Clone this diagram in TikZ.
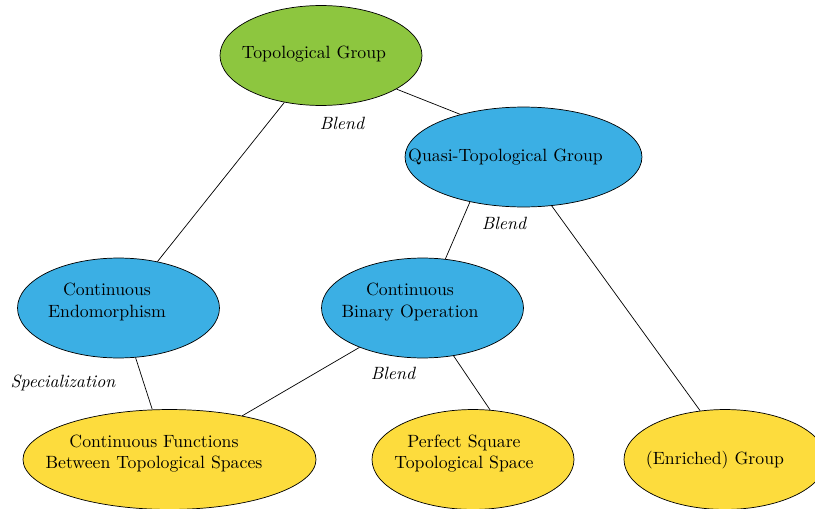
\documentclass[tikz,border=0pt]{standalone}
\usetikzlibrary{shapes.geometric}
\definecolor{tgreen}{RGB}{141,198,63}
\definecolor{tblue}{RGB}{59,175,228}
\definecolor{tyellow}{RGB}{253,220,61}
\begin{document}
\begin{tikzpicture}[x=0.5634pt,y=-0.5634pt,
  blob/.style={ellipse,draw=black,thin,inner sep=0pt,minimum height=56.3pt,minimum width=113.8pt},
  txt/.style={align=center,inner sep=0pt},
  lbl/.style={font=\itshape,inner sep=0pt},
  link/.style={draw=black,thin}]
\useasboundingbox (0,0) rectangle (815,509);
% ellipses
\node[blob,fill=tgreen] (tg) at (321,55.5) {};
\node[blob,fill=tblue,minimum width=133.5pt] (qtg) at (523.5,157) {};
\node[blob,fill=tblue] (ce) at (118.5,308) {};
\node[blob,fill=tblue] (cbo) at (422.5,308) {};
\node[blob,fill=tyellow,minimum width=165.1pt] (cf) at (169.5,459.5) {};
\node[blob,fill=tyellow] (ps) at (473,459.5) {};
\node[blob,fill=tyellow] (eg) at (725,459.5) {};
% texts
\node[txt] (tgt) at (314,54) {Topological Group};
\node[txt] (qtgt) at (505.5,157) {Quasi-Topological Group};
\node[txt] (cet) at (107,302) {Continuous\\Endomorphism};
\node[txt] (cbot) at (410,302) {Continuous\\Binary Operation};
\node[txt] (cft) at (154,453.5) {Continuous Functions\\Between Topological Spaces};
\node[txt] (pst) at (464,453.5) {Perfect Square\\Topological Space};
\node[txt] (egt) at (715,460) {(Enriched) Group};
% connectors
\draw[link] (tg.232) -- (ce.50);
\draw[link] (tg.-24) -- (qtg.146);
\draw[link] (qtg.220) -- (cbo.65);
\draw[link] (qtg.300) -- (eg.117);
\draw[link] (ce.289) -- (cf.109);
\draw[link] (cbo.212) -- (cf.31);
\draw[link] (cbo.303) -- (ps.71);
% labels
\node[lbl] (l1) at (342,123) {Blend};
\node[lbl] (l2) at (504,223) {Blend};
\node[lbl] (l3) at (393,373) {Blend};
\node[lbl] (l4) at (63,383) {Specialization};
\end{tikzpicture}
\end{document}
